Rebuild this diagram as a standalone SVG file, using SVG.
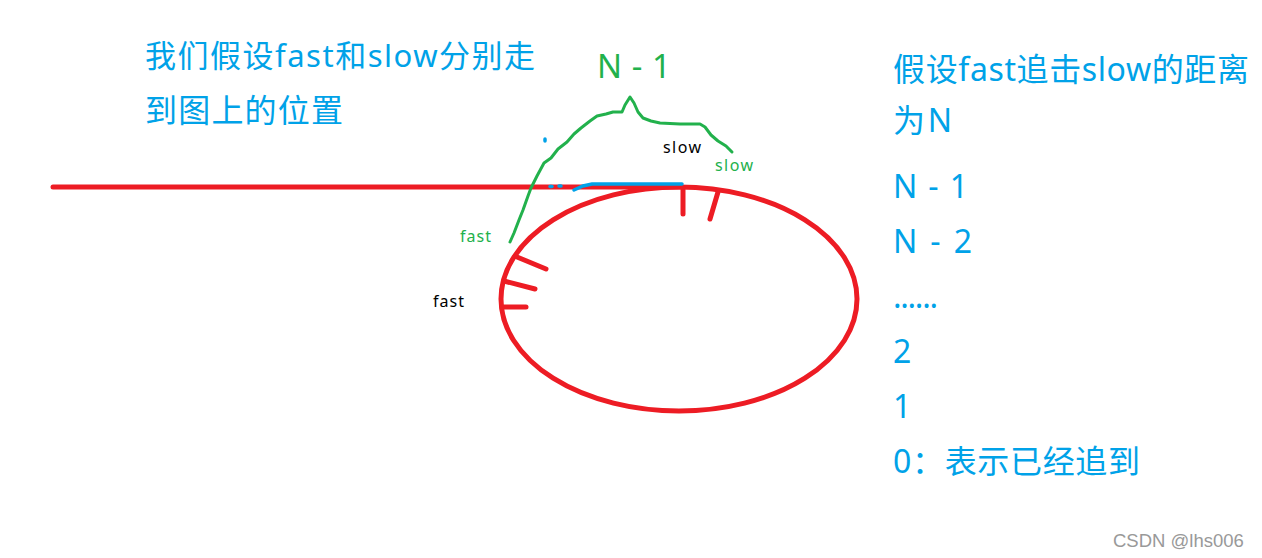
<svg xmlns="http://www.w3.org/2000/svg" width="1262" height="558" viewBox="0 0 1262 558">
<style>
.t{font-family:"Noto Sans","Noto Sans CJK SC",sans-serif;}
.blue{fill:#00a2e8;}
.green{fill:#22b14c;}
.red{stroke:#ed1c24;stroke-width:5;fill:none;stroke-linecap:round;}
.gl{stroke:#22b14c;stroke-width:3;fill:none;stroke-linejoin:round;stroke-linecap:round;}
.bl{stroke:#00a2e8;stroke-width:3.5;fill:none;stroke-linecap:round;}
</style>
<rect width="1262" height="558" fill="#ffffff"/>
<g id="drawing">
<line class="red" x1="53" y1="187" x2="680" y2="187"/>
<ellipse id="ring" class="red" cx="679" cy="299" rx="178" ry="112"/>
<g id="ticks">
<line class="red" x1="683" y1="188" x2="683" y2="214"/>
<line class="red" x1="718" y1="192" x2="710" y2="219"/>
<line class="red" x1="517" y1="257" x2="546" y2="269"/>
<line class="red" x1="504" y1="281" x2="535" y2="289"/>
<line class="red" x1="502" y1="307" x2="526" y2="307"/>
</g>
<path id="blue-seg" class="bl" d="M574 190 L583 186 L592 184 L682 184"/>
<line class="bl" x1="550" y1="186.5" x2="552" y2="186.5" stroke-width="2"/>
<line class="bl" x1="559" y1="186" x2="561" y2="186" stroke-width="2"/>
<line class="bl" x1="545" y1="139" x2="545" y2="141" stroke-width="1.5"/>
<path id="green-arc" class="gl" d="M510 242 L514 233 L519 220 L523 210 L528 196 L531 188 L537 176 L544 163 L551 158 L558 149 L567 142 L574 134 L581 128 L590 121 L597 116 L606 114 L613 112 L622 112 L625 105 L630 97 L634 103 L638 112 L643 118 L651 121 L660 123 L680 124 L700 124 L705 127 L711 135 L718 141 L726 146 L732 152"/>
</g>
<g id="labels" class="t">
<text class="blue" x="145" y="67" font-size="31" textLength="390" lengthAdjust="spacing">我们假设fast和slow分别走</text>
<text class="blue" x="145" y="122" font-size="32" textLength="198" lengthAdjust="spacing">到图上的位置</text>
<text class="green" x="597" y="78" font-size="33" textLength="74" lengthAdjust="spacing">N - 1</text>
<text x="663" y="153" font-size="16" fill="#000" textLength="38" lengthAdjust="spacing">slow</text>
<text class="green" x="715" y="171" font-size="16" textLength="38" lengthAdjust="spacing">slow</text>
<text class="green" x="460" y="242" font-size="16" textLength="31" lengthAdjust="spacing">fast</text>
<text x="433" y="307" font-size="16" fill="#000" textLength="31" lengthAdjust="spacing">fast</text>
</g>
<g id="steps" class="t blue" font-size="32">
<text x="893" y="81" textLength="356" lengthAdjust="spacing">假设fast追击slow的距离</text>
<text x="893" y="132" textLength="59" lengthAdjust="spacing">为N</text>
<text x="893" y="198" textLength="75" lengthAdjust="spacing">N - 1</text>
<text x="893" y="253" textLength="79" lengthAdjust="spacing">N - 2</text>
<text x="893" y="308" textLength="45" lengthAdjust="spacing">......</text>
<text x="893" y="363">2</text>
<text x="893" y="418">1</text>
<text x="893" y="473" textLength="247" lengthAdjust="spacing">0：表示已经追到</text>
</g>
<text x="1113" y="547" font-family="Liberation Sans, Arial, sans-serif" font-size="18.5" fill="#999999">CSDN @lhs006</text>
</svg>
